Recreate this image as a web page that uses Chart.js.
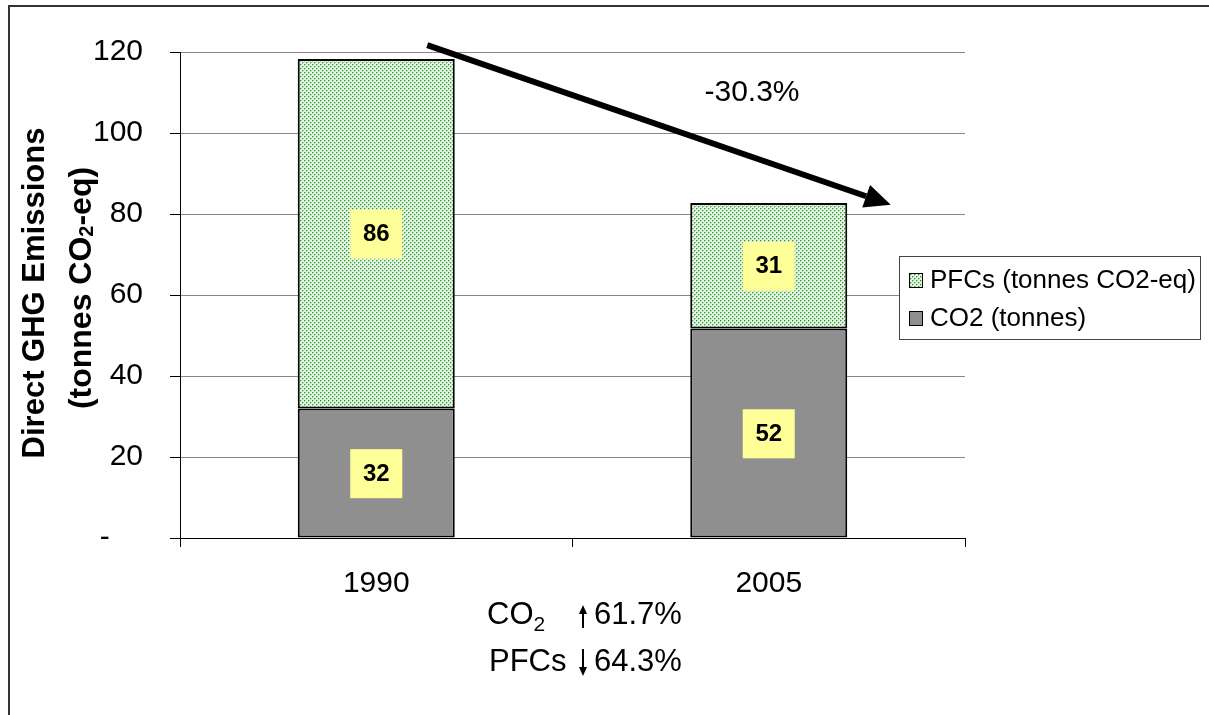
<!DOCTYPE html>
<html>
<head>
<meta charset="utf-8">
<script src="https://cdn.jsdelivr.net/npm/chart.js@4.4.0/dist/chart.umd.min.js"></script>
<style>
  html, body { margin: 0; padding: 0; background: #fff; }
  #wrap { width: 1209px; height: 715px; position: relative; }
</style>
</head>
<body>
<div id="wrap"><canvas id="grafico"></canvas></div>
<script>
// datos
const categorias = ['1990', '2005'];
const valoresCO2 = [32.0, 51.7];
const valoresPFC = [86.3, 31.0];
const nombresSeries = ['CO2 (tonnes)', 'PFCs (tonnes CO2-eq)'];
const ejeMax = 120;
const ejePaso = 20;
const textoTendencia = '-30.3%';
const cambioCO2 = '61.7%';
const cambioPFC = '64.3%';

const FUENTE = '"Liberation Sans", Arial, sans-serif';
const GRIS_CO2 = '#8f8f8f';

// patron de puntos verdes para los PFCs
function crearPatron() {
    const c = document.createElement('canvas');
    c.width = 4; c.height = 4;
    const g = c.getContext('2d');
    g.fillStyle = '#e4f3e4';
    g.fillRect(0, 0, 4, 4);
    g.fillStyle = '#9fd49f';
    g.fillRect(1, 0, 1, 1); g.fillRect(3, 2, 1, 1);
    g.fillRect(0, 1, 1, 1); g.fillRect(2, 3, 1, 1);
    g.fillStyle = '#2f9a2f';
    g.fillRect(0, 0, 1, 1);
    g.fillRect(2, 2, 1, 1);
    return g.createPattern(c, 'repeat');
}
const patronPFC = crearPatron();

function dibujarPartes(ctx, partes, x, y, alinear) {
    let total = 0;
    ctx.textAlign = 'left';
    const anchos = partes.map(p => { ctx.font = p.font; const w = ctx.measureText(p.text).width; total += w; return w; });
    let cx = alinear === 'center' ? x - total / 2 : x;
    partes.forEach((p, i) => {
        ctx.font = p.font;
        ctx.fillText(p.text, cx, y + (p.dy || 0));
        cx += anchos[i];
    });
}

function flecha(ctx, x1, y1, x2, y2, grosor, largo, ancho) {
    const ang = Math.atan2(y2 - y1, x2 - x1);
    const bx = x2 - largo * Math.cos(ang);
    const by = y2 - largo * Math.sin(ang);
    ctx.beginPath();
    ctx.lineWidth = grosor;
    ctx.moveTo(x1, y1);
    ctx.lineTo(bx, by);
    ctx.stroke();
    ctx.beginPath();
    ctx.moveTo(x2, y2);
    ctx.lineTo(bx + ancho * Math.sin(ang), by - ancho * Math.cos(ang));
    ctx.lineTo(bx - ancho * Math.sin(ang), by + ancho * Math.cos(ang));
    ctx.closePath();
    ctx.fill();
}

const pluginExtras = {
    id: 'extras',
    beforeDraw(chart) {
        const ctx = chart.ctx;
        ctx.save();
        ctx.fillStyle = '#fff';
        ctx.fillRect(0, 0, chart.width, chart.height);
        // marco exterior
        ctx.strokeStyle = '#333';
        ctx.lineWidth = 2;
        ctx.beginPath();
        ctx.moveTo(9, chart.height + 5);
        ctx.lineTo(9, 6);
        ctx.lineTo(chart.width + 5, 6);
        ctx.stroke();
        ctx.restore();
    },
    afterDatasetsDraw(chart) {
        const ctx = chart.ctx;
        const x = chart.scales.x;
        const y = chart.scales.y;
        ctx.save();

        // etiquetas amarillas
        ctx.textAlign = 'center';
        ctx.textBaseline = 'middle';
        ctx.font = 'bold 24px ' + FUENTE;
        chart.data.datasets.forEach((ds, di) => {
            const meta = chart.getDatasetMeta(di);
            meta.data.forEach((bar, i) => {
                const base = di === 0 ? 0 : valoresCO2[i];
                const cy = y.getPixelForValue(base + ds.data[i] / 2);
                ctx.fillStyle = '#ffff99';
                ctx.fillRect(bar.x - 26, cy - 24, 52, 49);
                ctx.fillStyle = '#000';
                ctx.fillText(String(Math.round(ds.data[i])), bar.x, cy + 1);
            });
        });

        // flecha de tendencia
        ctx.fillStyle = '#000';
        ctx.strokeStyle = '#000';
        const x1 = x.getPixelForValue(0) + 51, y1 = y.getPixelForValue(121.7);
        const x2 = x.getPixelForValue(1) + 122, y2 = y.getPixelForValue(82.3);
        flecha(ctx, x1, y1, x2, y2, 6, 26, 12);
        ctx.font = '30px ' + FUENTE;
        ctx.textBaseline = 'middle';
        ctx.fillText(textoTendencia, 752, 93);

        // titulo del eje y
        ctx.textBaseline = 'middle';
        ctx.save();
        ctx.translate(35, 293);
        ctx.rotate(-Math.PI / 2);
        dibujarPartes(ctx, [{ text: 'Direct GHG Emissions', font: 'bold 31px ' + FUENTE }], 0, 0, 'center');
        ctx.restore();
        ctx.save();
        ctx.translate(82, 288);
        ctx.rotate(-Math.PI / 2);
        dibujarPartes(ctx, [
            { text: '(tonnes CO', font: 'bold 32px ' + FUENTE },
            { text: '2', font: 'bold 20px ' + FUENTE, dy: 5 },
            { text: '-eq)', font: 'bold 32px ' + FUENTE }
        ], 0, 0, 'center');
        ctx.restore();

        // notas de cambio
        ctx.textBaseline = 'alphabetic';
        dibujarPartes(ctx, [
            { text: 'CO', font: '31px ' + FUENTE },
            { text: '2', font: '21px ' + FUENTE, dy: 7 }
        ], 487, 624, 'left');
        ctx.font = '31px ' + FUENTE;
        ctx.fillText(cambioCO2, 594, 624);
        ctx.fillText('PFCs', 489, 671);
        ctx.fillText(cambioPFC, 594, 671);
        flecha(ctx, 583, 628, 583, 605, 2, 9, 4);
        flecha(ctx, 583, 649, 583, 676, 2, 9, 4);

        // leyenda
        ctx.fillStyle = '#fff';
        ctx.fillRect(899, 256, 301, 83);
        ctx.strokeStyle = '#444';
        ctx.lineWidth = 1;
        ctx.strokeRect(899.5, 256.5, 301, 83);
        const filas = [
            { nombre: nombresSeries[1], relleno: patronPFC, y: 280 },
            { nombre: nombresSeries[0], relleno: GRIS_CO2, y: 318 }
        ];
        filas.forEach(f => {
            ctx.fillStyle = f.relleno;
            ctx.fillRect(909, f.y - 7, 13, 14);
            ctx.strokeStyle = '#000';
            ctx.strokeRect(909.5, f.y - 6.5, 13, 14);
            ctx.fillStyle = '#000';
            ctx.font = '26px ' + FUENTE;
            ctx.textBaseline = 'middle';
            ctx.textAlign = 'left';
            ctx.fillText(f.nombre, 930, f.y + 1);
        });
        ctx.restore();
    }
};

new Chart(document.getElementById('grafico'), {
    type: 'bar',
    data: {
        labels: categorias,
        datasets: [
            {
                label: nombresSeries[0],
                data: valoresCO2,
                backgroundColor: GRIS_CO2,
                borderColor: '#000',
                borderWidth: 2,
                borderSkipped: false,
                categoryPercentage: 1,
                barPercentage: 0.4
            },
            {
                label: nombresSeries[1],
                data: valoresPFC,
                backgroundColor: patronPFC,
                borderColor: '#000',
                borderWidth: 2,
                borderSkipped: false,
                categoryPercentage: 1,
                barPercentage: 0.4
            }
        ]
    },
    options: {
        responsive: true,
        maintainAspectRatio: false,
        animation: false,
        layout: { padding: { top: 52, right: 244, left: 0, bottom: 0 } },
        plugins: {
            legend: { display: false },
            tooltip: { enabled: false }
        },
        scales: {
            x: {
                stacked: true,
                afterFit(s) { s.height = 177; },
                grid: { offset: true, drawOnChartArea: false, drawTicks: true, tickLength: 9, color: '#000', lineWidth: 1 },
                border: { color: '#000', width: 1 },
                ticks: { color: '#000', font: { family: FUENTE, size: 30 }, padding: 19 }
            },
            y: {
                stacked: true,
                min: 0,
                max: ejeMax,
                afterFit(s) { s.width = 180; },
                grid: { color: '#888', lineWidth: 1, tickLength: 10, tickColor: '#000' },
                border: { color: '#000', width: 1 },
                ticks: {
                    stepSize: ejePaso,
                    color: '#000',
                    padding: 27,
                    font: { family: FUENTE, size: 30 },
                    callback: v => v === 0 ? '-    ' : String(v)
                }
            }
        }
    },
    plugins: [pluginExtras]
});
</script>
</body>
</html>
